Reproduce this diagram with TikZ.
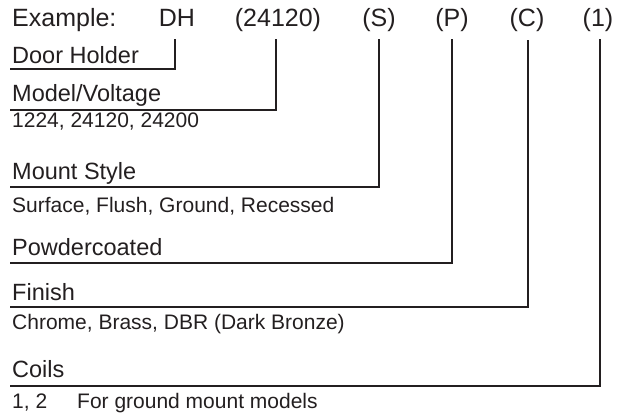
\documentclass[tikz,border=0pt]{standalone}
\usepackage{fontspec}
\setmainfont{Liberation Sans}
\definecolor{ink}{HTML}{231F20}
\begin{document}
\begin{tikzpicture}[x=1pt,y=-1pt,
  ex/.style={anchor=base,inner sep=0pt,text=ink,font=\fontsize{25}{30}\selectfont},
  lbl/.style={anchor=base west,inner sep=0pt,text=ink,font=\fontsize{23.5}{28}\selectfont},
  sml/.style={anchor=base west,inner sep=0pt,text=ink,font=\fontsize{21}{25}\selectfont},
  conn/.style={draw=ink,line width=2pt}]
\useasboundingbox (0,0) rectangle (620,413);
% example row
\node[ex,anchor=base west] (exa) at (12,26) {Example:};
\node[ex] (dh) at (177,26) {DH};
\node[ex] (mv) at (278,26) {(24120)};
\node[ex] (ms) at (379,26) {(S)};
\node[ex] (pc) at (452,26) {(P)};
\node[ex] (fn) at (527,26) {(C)};
\node[ex] (co) at (598,26) {(1)};
% labels
\node[lbl] (ldh) at (12,63) {Door Holder};
\node[lbl] (lmv) at (12,101) {Model/Voltage};
\node[sml] (smv) at (12,127) {1224, 24120, 24200};
\node[lbl] (lms) at (12,179) {Mount Style};
\node[sml] (sms) at (12,212) {Surface, Flush, Ground, Recessed};
\node[lbl] (lpc) at (12,255) {Powdercoated};
\node[lbl] (lfn) at (12,300) {Finish};
\node[sml] (sfn) at (12,329) {Chrome, Brass, DBR (Dark Bronze)};
\node[lbl] (lco) at (12,377) {Coils};
\node[sml] (sco) at (12,408) {1, 2};
\node[sml] (sco2) at (77,408) {For ground mount models};
% connector points
\coordinate (tdh) at (175,39);  \coordinate (edh) at (10,69);
\coordinate (tmv) at (276,39);  \coordinate (emv) at (10,110);
\coordinate (tms) at (379,39);  \coordinate (ems) at (10,187);
\coordinate (tpc) at (452,39);  \coordinate (epc) at (10,263);
\coordinate (tfn) at (528,40);  \coordinate (efn) at (10,307);
\coordinate (tco) at (600,39);  \coordinate (eco) at (10,386);
\draw[conn] (tdh) |- (edh);
\draw[conn] (tmv) |- (emv);
\draw[conn] (tms) |- (ems);
\draw[conn] (tpc) |- (epc);
\draw[conn] (tfn) |- (efn);
\draw[conn] (tco) |- (eco);
\end{tikzpicture}
\end{document}
